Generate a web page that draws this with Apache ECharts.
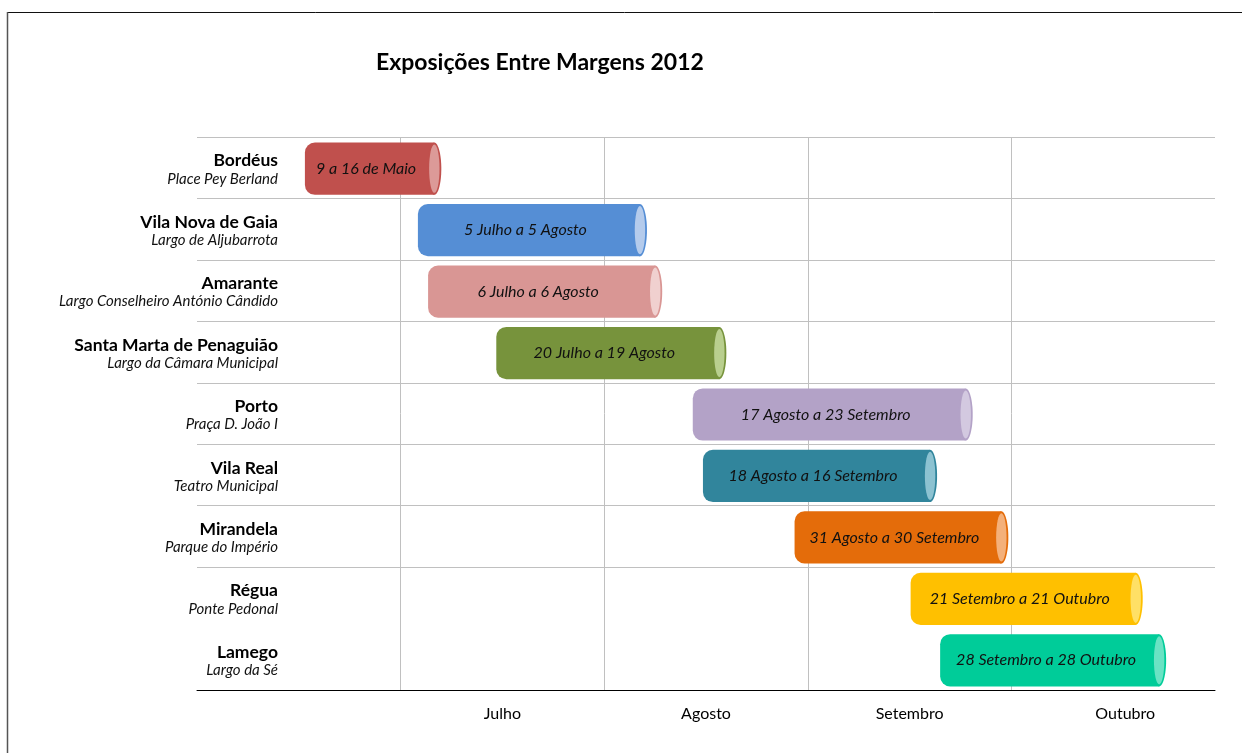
<!DOCTYPE html>
<html>
<head>
    <meta http-equiv="Content-Type" content="text/html; charset=utf-8" />
    <title>Exposições Entre Margens 2012</title>
    <script src="https://cdn.jsdelivr.net/npm/echarts@6/dist/echarts.min.js"></script>
    <style>
        html, body { margin: 0; padding: 0; background: #fff; }
        #main { width: 1242px; height: 753px; }
    </style>
</head>
<body>
    <div id="main"></div>
    <script type="text/javascript">
        // locais das exposições (de cima para baixo)
        var names = ['Bordéus', 'Vila Nova de Gaia', 'Amarante', 'Santa Marta de Penaguião', 'Porto',
            'Vila Real', 'Mirandela', 'Régua', 'Lamego'];
        var places = ['Place Pey Berland', 'Largo de Aljubarrota', 'Largo Conselheiro António Cândido',
            'Largo da Câmara Municipal', 'Praça D. João I', 'Teatro Municipal', 'Parque do Império',
            'Ponte Pedonal', 'Largo da Sé'];
        var periods = ['9 a 16 de Maio', '5 Julho a 5 Agosto', '6 Julho a 6 Agosto', '20 Julho a 19 Agosto',
            '17 Agosto a 23 Setembro', '18 Agosto a 16 Setembro', '31 Agosto a 30 Setembro',
            '21 Setembro a 21 Outubro', '28 Setembro a 28 Outubro'];
        // posição das barras em meses contados a partir de 1 de Junho
        var startPos = [0.53, 1.085, 1.135, 1.47, 2.435, 2.485, 2.935, 3.505, 3.65];
        var endPos = [1.20, 2.21, 2.285, 2.60, 3.81, 3.635, 3.985, 4.645, 4.76];
        var months = ['', 'Julho', 'Agosto', 'Setembro', 'Outubro'];

        var barColors = ['#c0504d', '#558ed5', '#d99694', '#77933c', '#b3a2c7', '#31859c', '#e46c0a', '#ffc000', '#00cc99'];
        var capColors = ['#dc9a98', '#b4cbec', '#f0d0cf', '#b9cf8e', '#d3c9e0', '#8cc2d1', '#f4b07a', '#ffe066', '#6ae3c4'];

        var data = [];
        for (var i = 0; i < names.length; i++) {
            data.push([i, startPos[i], endPos[i]]);
        }

        var gridColors = [];
        for (var k = 0; k <= names.length; k++) {
            gridColors.push(k == 8 ? 'rgba(0,0,0,0)' : '#c0c0c0');
        }

        var myChart = echarts.init(document.getElementById('main'));

        var option = {
            backgroundColor: '#fff',
            animation: false,
            title: {
                text: 'Exposições Entre Margens 2012',
                left: 371,
                top: 46,
                textStyle: { fontFamily: 'Lato', fontSize: 23, fontWeight: 'bold', color: '#000' }
            },
            graphic: [
                { type: 'line', shape: { x1: 7, y1: 12.5, x2: 1242, y2: 12.5 }, style: { stroke: '#111', lineWidth: 1 } },
                { type: 'line', shape: { x1: 7.5, y1: 12, x2: 7.5, y2: 753 }, style: { stroke: '#555', lineWidth: 1.5 } }
            ],
            grid: { left: 197, right: 27, top: 137, bottom: 63 },
            xAxis: [{
                type: 'value',
                min: 0,
                max: 5,
                interval: 1,
                axisLine: { show: true, lineStyle: { color: '#000', width: 1 } },
                axisTick: { show: false },
                axisLabel: { show: false },
                splitLine: {
                    show: true,
                    lineStyle: { color: ['rgba(0,0,0,0)', '#c0c0c0', '#c0c0c0', '#c0c0c0', '#c0c0c0', 'rgba(0,0,0,0)'], width: 1 }
                }
            }, {
                type: 'category',
                position: 'bottom',
                data: months,
                boundaryGap: true,
                axisLine: { show: false },
                axisTick: { show: false },
                splitLine: { show: false },
                axisLabel: {
                    margin: 16,
                    fontFamily: 'Lato',
                    fontSize: 16,
                    color: '#000',
                    formatter: function (v) {
                        return v == 'Outubro' ? '{o|' + v + '}' : v;
                    },
                    rich: { o: { fontFamily: 'Lato', fontSize: 16, color: '#000', padding: [0, 0, 0, 24] } }
                }
            }],
            yAxis: {
                type: 'category',
                data: names,
                inverse: true,
                axisLine: { show: false },
                axisTick: { show: false },
                splitLine: { show: true, lineStyle: { color: gridColors, width: 1 } },
                axisLabel: {
                    margin: -81,
                    align: 'right',
                    formatter: function (v, idx) {
                        return '{n|' + v + '}\n{p|' + places[idx] + '}';
                    },
                    rich: {
                        n: { fontFamily: 'Lato', fontSize: 17.5, fontWeight: 'bold', color: '#000', lineHeight: 20, align: 'right', padding: [6, 0, 0, 0] },
                        p: { fontFamily: 'Lato', fontSize: 15, fontStyle: 'italic', color: '#111', lineHeight: 20, align: 'right', padding: [2, 0, 0, 0] }
                    }
                }
            },
            series: [{
                type: 'custom',
                xAxisIndex: 0,
                encode: { x: [1, 2], y: 0 },
                data: data,
                renderItem: function (params, api) {
                    var idx = params.dataIndex;
                    var s = api.coord([api.value(1), api.value(0)]);
                    var e = api.coord([api.value(2), api.value(0)]);
                    var h = api.size([0, 1])[1] * 0.85;
                    var cy = s[1] + 1;
                    var top = cy - h / 2;
                    var rx = 7;
                    var c = barColors[idx];
                    return {
                        type: 'group',
                        children: [{
                            type: 'rect',
                            shape: { x: s[0], y: top, width: e[0] - s[0] - rx, height: h, r: [10, 0, 0, 10] },
                            style: { fill: c }
                        }, {
                            type: 'ellipse',
                            shape: { cx: e[0] - rx, cy: cy, rx: rx, ry: h / 2 },
                            style: { fill: c }
                        }, {
                            type: 'ellipse',
                            shape: { cx: e[0] - rx, cy: cy, rx: rx - 1.8, ry: h / 2 - 2 },
                            style: { fill: capColors[idx] }
                        }, {
                            type: 'text',
                            style: {
                                text: periods[idx],
                                x: (s[0] + e[0] - 2 * rx) / 2,
                                y: cy,
                                align: 'center',
                                verticalAlign: 'middle',
                                font: 'italic 16px Lato',
                                fill: '#111'
                            }
                        }]
                    };
                }
            }]
        };

        myChart.setOption(option);
    </script>
</body>
</html>
